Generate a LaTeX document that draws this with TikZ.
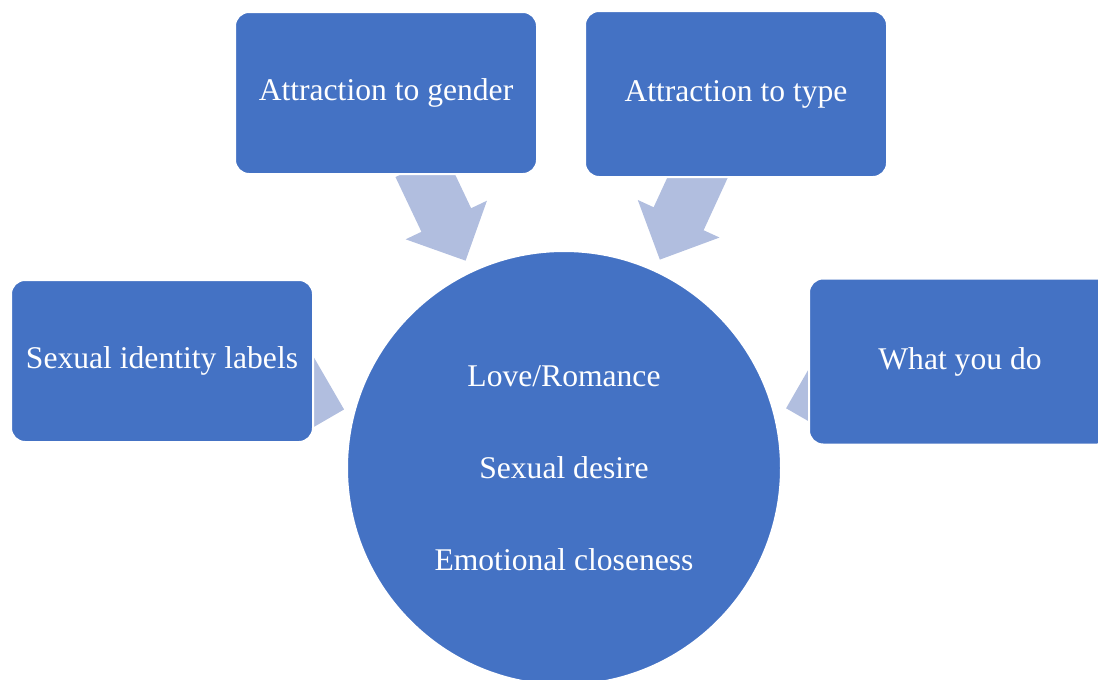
\documentclass[tikz,border=0pt]{standalone}
\usepackage{fontspec}
\setmainfont{Liberation Serif}
\usetikzlibrary{calc,backgrounds}
\definecolor{boxblue}{RGB}{68,114,196}
\definecolor{feedblue}{RGB}{177,190,223}
\begin{document}
\begin{tikzpicture}[x=0.5pt,y=-0.5pt]
\tikzstyle{every node}+=[inner sep=0pt,text=white,font=\fontsize{15.8}{19}\selectfont]
\tikzstyle{topic}=[draw=white,line width=1pt,fill=boxblue,rounded corners=7pt,minimum width=151pt]
\tikzstyle{feed}=[fill=feedblue]
\useasboundingbox (0,0) rectangle (1098,680);
\clip (0,0) rectangle (1098,680);
\node [topic,minimum height=81pt] (gender) at (386,93) {Attraction to gender};
\node [topic,minimum height=83pt] (type) at (736,94) {Attraction to type};
\node [topic,minimum height=81pt] (labels) at (162,361) {Sexual identity labels};
\node [topic,minimum height=83pt] (what) at (960,361.5) {What you do};
\node [circle,draw=white,line width=1pt,fill=boxblue,minimum size=217pt,align=center,font=\fontsize{15.8}{46}\selectfont] (core) at (564,468) {Love/Romance\\Sexual desire\\Emotional closeness};
\begin{scope}[on background layer]
\fill [feed] ($(gender.center)!40pt!(core.center)!13.75pt!90:(core.center)$) -- ($(gender.center)!70.3pt!(core.center)!13.75pt!90:(core.center)$) -- ($(gender.center)!70.3pt!(core.center)!22.5pt!90:(core.center)$) -- ($(gender.center)!92.8pt!(core.center)$) -- ($(gender.center)!70.3pt!(core.center)!22.5pt!-90:(core.center)$) -- ($(gender.center)!70.3pt!(core.center)!13.75pt!-90:(core.center)$) -- ($(gender.center)!40pt!(core.center)!13.75pt!-90:(core.center)$) -- cycle;
\fill [feed] ($(type.center)!40pt!(core.center)!13.75pt!90:(core.center)$) -- ($(type.center)!68.65pt!(core.center)!13.75pt!90:(core.center)$) -- ($(type.center)!68.65pt!(core.center)!22.5pt!90:(core.center)$) -- ($(type.center)!91.15pt!(core.center)$) -- ($(type.center)!68.65pt!(core.center)!22.5pt!-90:(core.center)$) -- ($(type.center)!68.65pt!(core.center)!13.75pt!-90:(core.center)$) -- ($(type.center)!40pt!(core.center)!13.75pt!-90:(core.center)$) -- cycle;
\fill [feed] ($(labels.center)!40pt!(core.center)!13.75pt!90:(core.center)$) -- ($(labels.center)!71.7pt!(core.center)!13.75pt!90:(core.center)$) -- ($(labels.center)!71.7pt!(core.center)!22.5pt!90:(core.center)$) -- ($(labels.center)!94.2pt!(core.center)$) -- ($(labels.center)!71.7pt!(core.center)!22.5pt!-90:(core.center)$) -- ($(labels.center)!71.7pt!(core.center)!13.75pt!-90:(core.center)$) -- ($(labels.center)!40pt!(core.center)!13.75pt!-90:(core.center)$) -- cycle;
\fill [feed] ($(what.center)!40pt!(core.center)!13.75pt!90:(core.center)$) -- ($(what.center)!67.55pt!(core.center)!13.75pt!90:(core.center)$) -- ($(what.center)!67.55pt!(core.center)!22.5pt!90:(core.center)$) -- ($(what.center)!90.05pt!(core.center)$) -- ($(what.center)!67.55pt!(core.center)!22.5pt!-90:(core.center)$) -- ($(what.center)!67.55pt!(core.center)!13.75pt!-90:(core.center)$) -- ($(what.center)!40pt!(core.center)!13.75pt!-90:(core.center)$) -- cycle;
\end{scope}
\end{tikzpicture}
\end{document}
